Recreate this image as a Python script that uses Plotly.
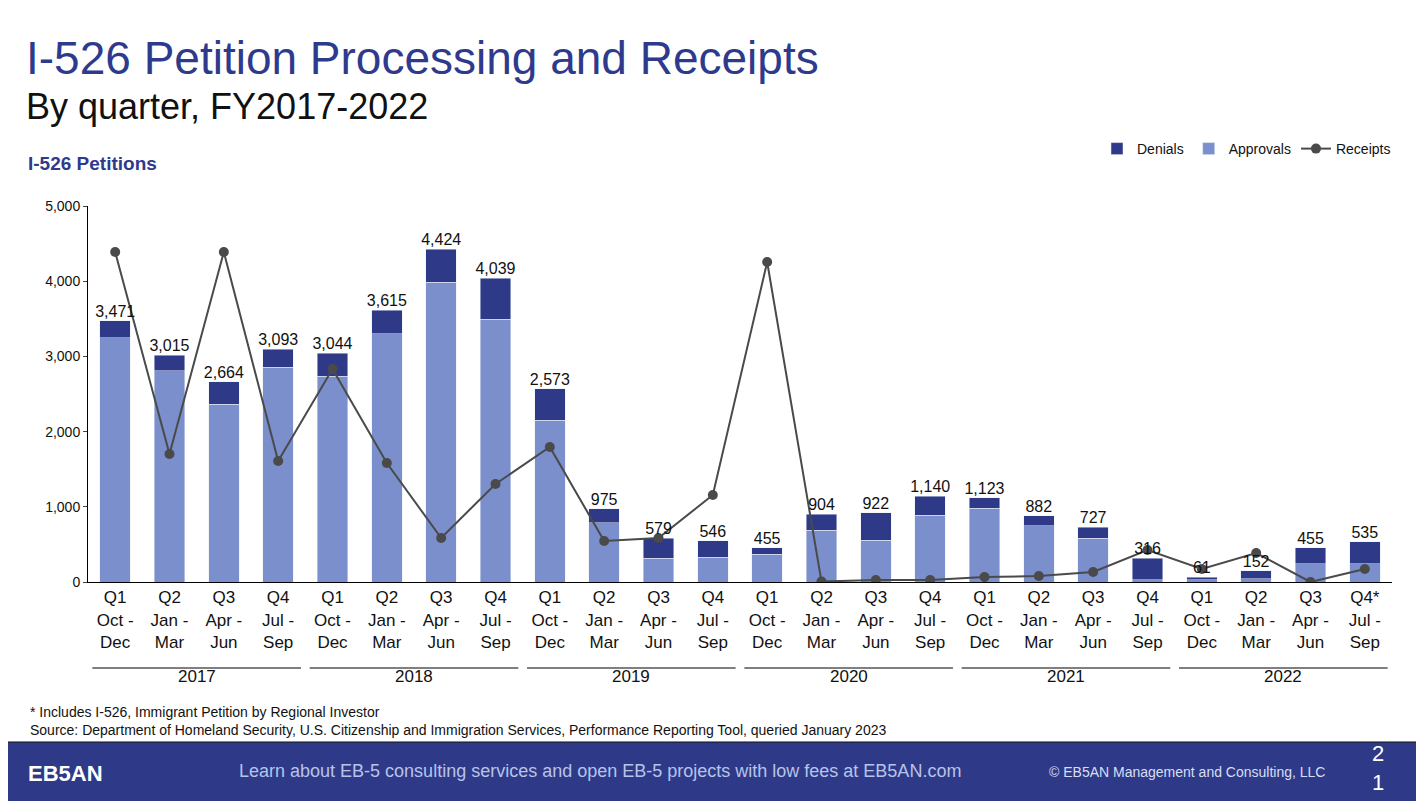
import plotly.graph_objects as go

quarters = ["Q1<br>Oct -<br>Dec", "Q2<br>Jan -<br>Mar", "Q3<br>Apr -<br>Jun", "Q4<br>Jul -<br>Sep"]
years = ["2017", "2018", "2019", "2020", "2021", "2022"]
totals = [3471, 3015, 2664, 3093, 3044, 3615, 4424, 4039, 2573, 975, 579, 546,
          455, 904, 922, 1140, 1123, 882, 727, 316, 61, 152, 455, 535]
approvals = [3245, 2806, 2367, 2859, 2739, 3298, 3989, 3497, 2154, 785, 319, 332,
             372, 691, 558, 891, 984, 745, 585, 27, 27, 40, 240, 240]
receipts = [4388, 1702, 4388, 1609, 2832, 1582, 585, 1303, 1795, 545, 585, 1157,
            4255, 5, 27, 27, 66, 80, 133, 425, 173, 385, 0, 173]
denials = [t - a for t, a in zip(totals, approvals)]
labels = [f"{t:,}" for t in totals]
ticktext = [q for _ in years for q in quarters]
ticktext[-1] = "Q4*<br>Jul -<br>Sep"
x = list(range(len(totals)))

DARK = "#2E3A87"
LIGHT = "#7A8FCB"
fig = go.Figure()
fig.add_bar(x=x, y=approvals, name="Approvals", marker_color=LIGHT, width=0.56, legendrank=2)
fig.add_bar(x=x, y=denials, name="Denials", marker_color=DARK, width=0.56, legendrank=1)
fig.add_scatter(x=x, y=receipts, name="Receipts", mode="lines+markers", legendrank=3,
                line=dict(color="#4a4a4a", width=2), marker=dict(size=10, color="#4a4a4a"))
fig.add_scatter(x=x, y=totals, text=labels, mode="text", textposition="top center",
                textfont=dict(size=16, color="#111"), showlegend=False, cliponaxis=False)

OFF = 8  # page offset of the figure
W, H = 1424, 801
L, T = 88 - OFF, 206 - OFF
R = W - (1392 - OFF)
B = H - (582 - OFF)
PW, PH = W - L - R, H - T - B
fig.update_layout(
    width=W, height=H, barmode="stack", plot_bgcolor="white", paper_bgcolor="white",
    margin=dict(l=L, r=R, t=T, b=B),
    font=dict(family="Liberation Sans, Arial", color="#111"),
    legend=dict(orientation="h", x=(1396 - OFF - L) / PW, xanchor="right", traceorder="normal",
                y=(H - B - (149 - OFF)) / PH, yanchor="middle", font=dict(size=14)),
    xaxis=dict(tickmode="array", tickvals=x, ticktext=ticktext, range=[-0.5, 23.5],
               showline=True, linecolor="black", ticks="", tickfont=dict(size=17)),
    yaxis=dict(range=[0, 5000], tickvals=[0, 1000, 2000, 3000, 4000, 5000], tickformat=",",
               showgrid=False, showline=True, linecolor="black", ticks="outside",
               ticklen=4, tickfont=dict(size=14), zeroline=False),
)

def px_x(p):
    return (p - OFF - L) / PW
def px_y(p):
    return (H - B - (p - OFF)) / PH

ann = []
shapes = []
shapes.append(dict(type="rect", xref="paper", yref="paper", x0=px_x(0), x1=px_x(W + 20),
                   y0=px_y(742), y1=px_y(H + 20), fillcolor=DARK, line=dict(color="#111", width=1)))
for i, yr in enumerate(years):
    ann.append(dict(x=4 * i + 1.5, xref="x", y=px_y(688), yref="paper", text=yr,
                    showarrow=False, font=dict(size=17)))
    shapes.append(dict(type="line", xref="x", yref="paper", x0=4 * i - 0.5 + 0.08,
                       x1=4 * i + 3.5 - 0.08, y0=px_y(668), y1=px_y(668),
                       line=dict(color="black", width=1)))

def txt(px, py, text, size, color="#111", anchor="left"):
    return dict(x=px_x(px), y=px_y(py), xref="paper", yref="paper", xanchor=anchor,
                yanchor="middle", text=text, showarrow=False, font=dict(size=size, color=color))

ann += [
    txt(24, 58, "I-526 Petition Processing and Receipts", 46, "#2E3A8C"),
    txt(24, 106, "By quarter, FY2017-2022", 36),
    txt(26, 163, "<b>I-526 Petitions</b>", 19, "#2E3A8C"),
    txt(28, 712, "* Includes I-526, Immigrant Petition by Regional Investor", 14),
    txt(28, 730, "Source: Department of Homeland Security, U.S. Citizenship and Immigration Services, Performance Reporting Tool, queried January 2023", 14),
    txt(26, 773, "<b>EB5AN</b>", 22, "white"),
    txt(600, 771, "Learn about EB-5 consulting services and open EB-5 projects with low fees at EB5AN.com", 18, "#B8C3EA", "center"),
    txt(1187, 772, "© EB5AN Management and Consulting, LLC", 14, "#D8DEF5", "center"),
    txt(1378, 768, "2<br>1", 22, "white", "center"),
]
fig.update_layout(annotations=ann, shapes=shapes)
fig.write_html("out.html")
